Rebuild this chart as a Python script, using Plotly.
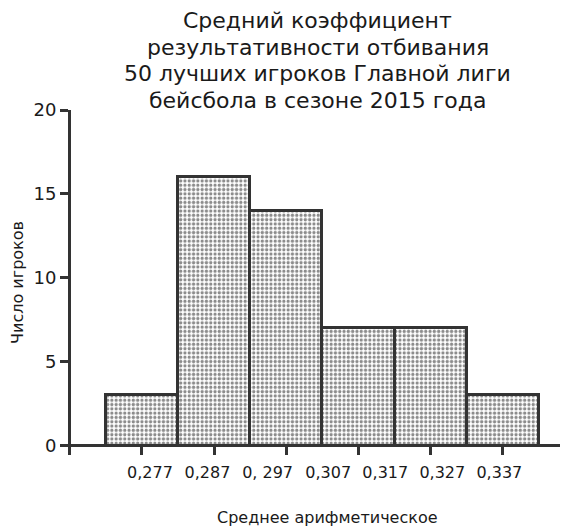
import plotly.graph_objects as go

# bins (index of the histogram bar) and player counts
bins = [0, 1, 2, 3, 4, 5]
counts = [3, 16, 14, 7, 7, 3]

# axis labels as they are printed under the bars
x_labels = ["0,277", "0,287", "0, 297", "0,307", "0,317", "0,327", "0,337"]
y_ticks = [0, 5, 10, 15, 20]

title_lines = ["Средний коэффициент", "результативности отбивания",
               "50 лучших игроков Главной лиги", "бейсбола в сезоне 2015 года"]
x_title = "Среднее арифметическое"
y_title = "Число игроков"

INK = "#333333"
TEXT = "#1a1a1a"
FONT = "DejaVu Sans"

# where the printed labels sit (in bar units), they do not line up with the bars
label_pos = [0.11, 0.907, 1.74, 2.58, 3.37, 4.16, 4.95]
x_range = [-0.983, 5.79]

fig = go.Figure()
fig.add_trace(go.Bar(
    x=bins,
    y=counts,
    width=1,
    marker=dict(
        color="white",
        line=dict(color=INK, width=3),
        pattern=dict(shape=".", fgcolor="#1a1a1a", bgcolor="white",
                     size=4.3, solidity=0.45, fillmode="overlay"),
    ),
    showlegend=False,
    hoverinfo="skip",
))

# invisible trace so that xaxis2 gets drawn
fig.add_trace(go.Scatter(x=[label_pos[0]], y=[0], xaxis="x2", mode="markers",
                         marker=dict(opacity=0), showlegend=False, hoverinfo="skip"))

# title, one line per annotation (tighter line spacing than plotly's title)
annotations = []
for i, line in enumerate(title_lines):
    annotations.append(dict(
        text=line, xref="paper", yref="paper", x=0.505, y=1,
        xanchor="center", yanchor="bottom", yshift=-5 + 26.5 * (len(title_lines) - 1 - i),
        showarrow=False, font=dict(size=22, color=TEXT),
    ))
annotations.append(dict(
    text=x_title, xref="paper", yref="paper", x=0.525, y=-0.18,
    xanchor="center", yanchor="middle", showarrow=False,
    font=dict(size=16, color=TEXT),
))

# the page body has an 8px margin, so the figure is 8px smaller than the window
fig.update_layout(
    width=572,
    height=520,
    paper_bgcolor="white",
    plot_bgcolor="white",
    margin=dict(l=63, r=20, t=102, b=73),
    font=dict(family=FONT, color=TEXT),
    bargap=0,
    xaxis=dict(
        range=x_range,
        tickvals=bins,
        showticklabels=False,
        ticks="inside",
        ticklen=9,
        tickwidth=3,
        tickcolor=INK,
        showline=False,
        showgrid=False,
        zeroline=False,
        automargin=False,
    ),
    xaxis2=dict(
        overlaying="x",
        side="bottom",
        anchor="y",
        range=x_range,
        tickvals=label_pos,
        ticktext=x_labels,
        ticks="outside",
        ticklen=3,
        tickcolor="rgba(0,0,0,0)",
        tickfont=dict(size=16, color=TEXT),
        showline=False,
        showgrid=False,
        zeroline=False,
        automargin=False,
    ),
    yaxis=dict(
        range=[-0.55, 20],
        tickvals=y_ticks,
        ticks="outside",
        ticklen=8,
        tickwidth=3,
        tickcolor=INK,
        tickfont=dict(size=18, color=TEXT),
        showline=True,
        linewidth=3,
        linecolor=INK,
        showgrid=False,
        zeroline=True,
        zerolinewidth=3,
        zerolinecolor=INK,
        automargin=False,
        title=dict(text=y_title, font=dict(size=16, color=TEXT), standoff=7),
    ),
    annotations=annotations,
)

fig.write_html("out.html")
